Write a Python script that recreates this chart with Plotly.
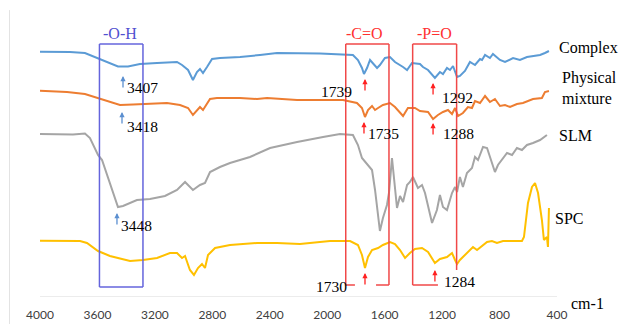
import plotly.graph_objects as go

# ---------------- data (wavenumber cm-1, offset transmittance a.u.) ----------------
complex_wn = [4000, 3791, 3687, 3603, 3513, 3457, 3387, 3304, 3185, 3046, 3011, 2969, 2935, 2907, 2886,
              2865, 2837, 2802, 2747, 2607, 2468, 2350, 2050, 1911, 1821, 1786, 1758, 1744, 1723, 1702,
              1681, 1653, 1633, 1598, 1563, 1528, 1472, 1444, 1410, 1354, 1333, 1298, 1250, 1215, 1194,
              1166, 1145, 1124, 1096, 1076, 1041, 1006, 971, 936, 922, 901, 867, 846, 797, 762, 706,
              658, 609, 567, 518, 484, 456]
complex_t = [245.3, 245, 244, 239, 234, 230.5, 230.5, 233, 234, 235, 232, 227, 217, 225, 228,
             224, 230, 238, 239, 240, 242, 244, 243.5, 243, 242, 237, 229, 223, 229, 237,
             234, 229, 232, 239, 240, 235, 230, 227, 234, 233, 230, 227, 219, 225, 223,
             229, 227, 231, 220, 221, 226, 235, 232, 238, 237, 242, 239, 243, 237, 235, 239,
             237, 240, 241, 242, 244, 246]

pm_wn = [4000, 3812, 3687, 3603, 3513, 3443, 3352, 3234, 3116, 3025, 2969, 2935, 2900, 2886, 2865,
         2837, 2816, 2768, 2607, 2489, 2419, 2210, 1890, 1793, 1758, 1737, 1716, 1688, 1667, 1646,
         1612, 1563, 1528, 1472, 1438, 1389, 1354, 1298, 1263, 1229, 1194, 1159, 1131, 1110, 1089,
         1055, 1020, 992, 971, 936, 901, 867, 832, 797, 762, 727, 679, 637, 567, 505, 484, 456]
pm_t = [206.3, 205, 203, 199, 195, 192, 192.5, 193, 194, 192, 189, 182, 188, 190, 187,
        193, 198, 199, 199, 198, 199, 197, 197, 194, 189, 180, 187, 191, 187, 189,
        192, 194, 190, 181, 189, 189, 186, 185, 178, 182, 185, 187, 183, 189, 181,
        184, 190, 189, 196, 194, 201, 195, 198, 191, 192, 190, 193, 194, 198, 199, 205, 206]

slm_wn = [4000, 3770, 3687, 3652, 3596, 3568, 3457, 3422, 3325, 3234, 3130, 3046, 2990, 2935, 2886,
          2851, 2816, 2747, 2677, 2538, 2398, 2210, 2029, 1911, 1821, 1786, 1758, 1723, 1688, 1667,
          1646, 1633, 1612, 1584, 1570, 1549, 1514, 1493, 1472, 1444, 1424, 1403, 1368, 1340, 1319,
          1270, 1236, 1215, 1194, 1166, 1131, 1110, 1096, 1076, 1055, 1027, 992, 971, 950, 915,
          887, 867, 832, 811, 783, 748, 713, 679, 644, 609, 567, 518, 470]
slm_t = [163, 162.5, 163.5, 159, 142, 137, 90, 91, 97, 98, 101, 107, 115, 107, 112,
         114, 125, 130, 134, 140, 149, 155, 160, 163, 162, 152, 139, 133, 127, 107,
         82, 66, 79, 92, 104, 139, 89, 101, 95, 112, 115, 120, 109, 112, 104,
         74, 87, 102, 90, 87, 104, 110, 105, 120, 110, 124, 129, 140, 137, 150,
         149, 140, 125, 132, 137, 144, 142, 149, 147, 152, 154, 157, 162]

spc_wn = [4000, 3721, 3673, 3596, 3513, 3373, 3283, 3185, 3095, 3046, 3011, 2990, 2956, 2928, 2900,
          2872, 2851, 2830, 2781, 2677, 2489, 2350, 2190, 1981, 1841, 1786, 1758, 1737, 1716, 1688,
          1646, 1612, 1563, 1528, 1493, 1458, 1424, 1389, 1340, 1298, 1250, 1215, 1166, 1131, 1110,
          1096, 1076, 1041, 1006, 985, 957, 922, 887, 853, 818, 776, 706, 644, 630, 602, 574,
          553, 532, 505, 491, 470, 463, 456]
spc_t = [56.3, 56, 54, 46, 41, 36, 37, 39, 44, 44, 39, 41, 27, 22, 29,
         33, 29, 42, 49, 52, 54, 54, 53, 56, 56, 52, 42, 29, 40, 47,
         49, 52, 55, 53, 47, 39, 44, 48, 49, 45, 34, 38, 40, 44, 37,
         33, 37, 42, 47, 50, 47, 51, 55, 56, 54, 56, 56, 56, 60, 94, 110,
         114, 104, 77, 57, 60, 50, 89]

series_names = ["Complex", "Physical mixture", "SLM", "SPC"]
series_colors = ["#5b9bd5", "#ed7d31", "#a5a5a5", "#ffc000"]

tick_vals = [4000, 3600, 3200, 2800, 2400, 2000, 1600, 1200, 800, 400]
tick_text = ["4000", "3600", "3200", "2800", "2400", "2000", "1600", "1200", "800", "400"]

# peak labels: (text, wn, T)
peak_labels = [("3407", 3286, 209.5), ("3418", 3286, 171), ("3448", 3325, 71.5),
               ("1739", 1935, 206), ("1292", 1096, 199.5), ("1735", 1605, 164),
               ("1288", 1089, 164), ("1730", 1967, 11), ("1284", 1079, 16)]
# peak arrows: (wn, tip T, colour)
peak_arrows = [(3422, 221, "#5b8fd0"), (3429, 185, "#5b8fd0"), (3464, 84, "#5b8fd0"),
               (1737, 218, "#ff2020"), (1263, 214, "#ff2020"), (1744, 175, "#ff2020"),
               (1263, 174, "#ff2020"), (1737, 24, "#ff2020"), (1250, 27, "#ff2020")]

# ---------------- figure ----------------
fig = go.Figure()
for wn, t, name, col in zip([complex_wn, pm_wn, slm_wn, spc_wn], [complex_t, pm_t, slm_t, spc_t],
                            series_names, series_colors):
    fig.add_trace(go.Scatter(x=wn, y=t, mode="lines", name=name,
                             line=dict(color=col, width=2), showlegend=False))

SERIF = "Liberation Serif, Times New Roman, serif"
BLUE_BOX = "#6464dc"
RED_BOX = "#f04848"

shapes = []
def seg(x0, y0, x1, y1, col):
    shapes.append(dict(type="line", xref="x", yref="y", x0=x0, y0=y0, x1=x1, y1=y1,
                       line=dict(color=col, width=1.5), layer="above"))

# -O-H box
seg(3586, 253, 3283, 253, BLUE_BOX)
seg(3586, 253, 3586, 10, BLUE_BOX)
seg(3283, 253, 3283, 10, BLUE_BOX)
seg(3586, 10, 3283, 10, BLUE_BOX)
# -C=O box
seg(1871, 253, 1570, 253, RED_BOX)
seg(1871, 253, 1871, 12, RED_BOX)
seg(1570, 253, 1570, 12, RED_BOX)
seg(1871, 12, 1807, 12, RED_BOX)
seg(1660, 12, 1570, 12, RED_BOX)
# -P=O box
seg(1405, 253, 1099, 253, RED_BOX)
seg(1405, 253, 1405, 12, RED_BOX)
seg(1099, 253, 1099, 27, RED_BOX)
seg(1405, 12, 1229, 12, RED_BOX)

# x axis line
shapes.append(dict(type="line", xref="x", yref="y", x0=4000, x1=400, y0=0, y1=0,
                   line=dict(color="#d9d9d9", width=1)))
# faint left border
shapes.append(dict(type="line", xref="paper", yref="paper", x0=0.0153, x1=0.0153,
                   y0=0.966, y1=-0.1, line=dict(color="#e3e3e3", width=1)))

ann = []
for txt, x, y, col in [("-O-H", 3443, 264, "#5050d0"), ("-C=O", 1737, 264, "#ff3030"),
                       ("-P=O", 1250, 264, "#ff3030")]:
    ann.append(dict(text=txt, x=x, y=y, xref="x", yref="y", showarrow=False,
                    font=dict(family=SERIF, size=16, color=col)))
for txt, x, y in peak_labels:
    ann.append(dict(text=txt, x=x, y=y, xref="x", yref="y", showarrow=False,
                    font=dict(family=SERIF, size=15.5, color="black")))
for x, y, col in peak_arrows:
    ann.append(dict(text="", x=x, y=y, xref="x", yref="y", showarrow=True, ax=0, ay=13,
                    arrowhead=2, arrowsize=0.8, arrowwidth=1.3, arrowcolor=col))
for txt, x, y in [("Complex", 393, 249), ("Physical", 372, 219), ("mixture", 372, 199),
                  ("SLM", 393, 162), ("SPC", 421, 79)]:
    ann.append(dict(text=txt, x=x, y=y, xref="x", yref="y", showarrow=False, xanchor="left",
                    borderpad=0, font=dict(family=SERIF, size=16, color="black")))
ann.append(dict(text="cm-1", x=188, y=-0.057, xref="x", yref="paper", showarrow=False,
                font=dict(family=SERIF, size=16, color="black")))

fig.update_layout(
    width=621, height=324,
    margin=dict(l=0, r=0, t=0, b=27),
    paper_bgcolor="white", plot_bgcolor="white",
    shapes=shapes, annotations=ann,
    xaxis=dict(range=[4278.5, -45.7], showgrid=False, zeroline=False, showline=False,
               tickmode="array", tickvals=tick_vals, ticktext=tick_text,
               ticks="outside", ticklen=7, tickcolor="rgba(0,0,0,0)",
               tickfont=dict(family="Lato, Open Sans, sans-serif", size=12, color="#404040")),
    yaxis=dict(range=[0, 297], visible=False, showgrid=False, zeroline=False),
)

fig.write_html("out.html", config={"displayModeBar": False},
               post_script="document.body.style.margin='0';"
                           "document.body.style.overflow='hidden';")
